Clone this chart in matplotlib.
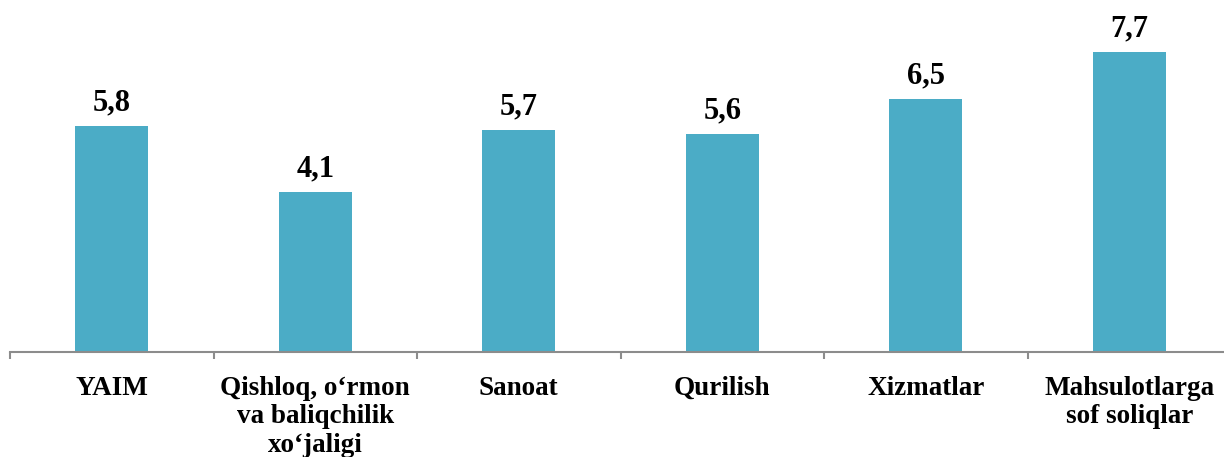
import matplotlib
matplotlib.use("Agg")
import matplotlib.pyplot as plt
from matplotlib.ticker import FixedLocator, NullFormatter

categories = ["YAIM", "Qishloq, o‘rmon\nva baliqchilik\nxo‘jaligi", "Sanoat",
              "Qurilish", "Xizmatlar", "Mahsulotlarga\nsof soliqlar"]
values = [5.8, 4.1, 5.7, 5.6, 6.5, 7.7]
value_labels = ["5,8", "4,1", "5,7", "5,6", "6,5", "7,7"]

W, H = 1224, 457
fig = plt.figure(figsize=(W / 100, H / 100), dpi=100)
left, right, top, bottom = 10, 1231, 0, 352
ax = fig.add_axes([left / W, (H - bottom) / H, (right - left) / W, (bottom - top) / H])

x = list(range(len(categories)))
ax.bar(x, values, width=0.36, color="#4BACC6", zorder=2)
ax.set_xlim(-0.5, len(categories) - 0.5)
ax.set_ylim(0, 352 / 39)

for xi, v, lab in zip(x, values, value_labels):
    ax.annotate(lab, (xi, v), xytext=(0, 6), textcoords="offset points",
                ha="center", va="bottom", fontsize=22, fontweight="bold",
                family="Liberation Serif", annotation_clip=False)

for s in ["top", "right", "left"]:
    ax.spines[s].set_visible(False)
ax.spines["bottom"].set_color("#8c8c8c")
ax.spines["bottom"].set_linewidth(1.5)
ax.spines["bottom"].set_clip_on(False)
ax.set_yticks([])

ax.set_xticks(x)
ax.set_xticklabels(categories, fontsize=19.5, fontweight="bold", family="Liberation Serif",
                   linespacing=1.2)
ax.tick_params(axis="x", which="major", length=0, pad=17)
ax.xaxis.set_minor_locator(FixedLocator([i - 0.5 for i in range(len(categories) + 1)]))
ax.xaxis.set_minor_formatter(NullFormatter())
ax.tick_params(axis="x", which="minor", length=5, width=1.5, color="#8c8c8c")

fig.savefig("out.png", dpi=100)
